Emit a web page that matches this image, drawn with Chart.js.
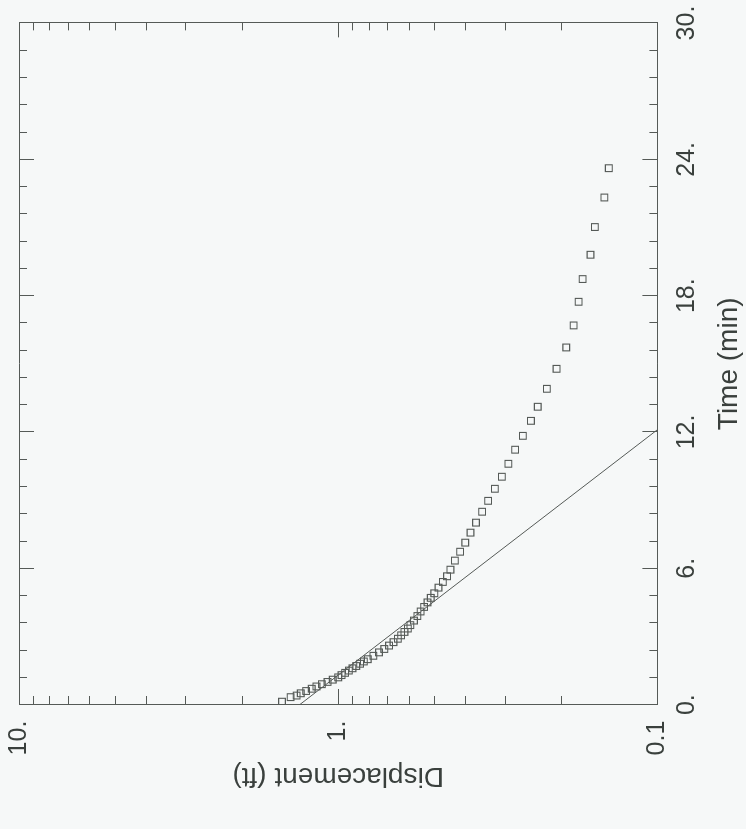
<!DOCTYPE html>
<html>
<head>
<meta charset="utf-8">
<script src="https://cdn.jsdelivr.net/npm/chart.js@4.4.1/dist/chart.umd.min.js"></script>
<style>
  html, body { margin: 0; padding: 0; background: #f6f8f8; overflow: hidden; }
  body { width: 746px; height: 829px; position: relative; }
  /* the scanned figure is turned a quarter turn: draw it upright, then rotate */
  #wrap {
    position: absolute; left: 0; top: 0; width: 829px; height: 746px;
    transform-origin: 0 0;
    transform: translate(0, 829px) rotate(-90deg);
  }
</style>
</head>
<body>
<div id="wrap"><canvas id="chart" width="829" height="746"></canvas></div>
<script>
'use strict';

// ---------------------------------------------------------------------------
// Data
// ---------------------------------------------------------------------------

const timeMin = [
  0.13, 0.33, 0.40, 0.50, 0.60, 0.70, 0.80, 0.90, 1.00, 1.10,
  1.20, 1.30, 1.40, 1.50, 1.60, 1.70, 1.80, 1.90, 2.00, 2.15,
  2.30, 2.45, 2.60, 2.75, 2.90, 3.05, 3.20, 3.35, 3.50, 3.70,
  3.90, 4.10, 4.30, 4.50, 4.70, 4.90, 5.15, 5.40, 5.65, 5.94,
  6.34, 6.73, 7.13, 7.57, 8.01, 8.49, 8.97, 9.50, 10.03, 10.60,
  11.22, 11.83, 12.49, 13.11, 13.90, 14.78, 15.72, 16.69, 17.73, 18.73,
  19.80, 21.02, 22.32, 23.61,
];

const dispFt = [
  1.50, 1.41, 1.35, 1.31, 1.26, 1.21, 1.17, 1.125, 1.08, 1.04,
  1.00, 0.976, 0.951, 0.926, 0.902, 0.878, 0.854, 0.831, 0.808, 0.776,
  0.745, 0.717, 0.693, 0.671, 0.650, 0.635, 0.620, 0.605, 0.594, 0.579,
  0.565, 0.552, 0.538, 0.525, 0.513, 0.500, 0.485, 0.470, 0.456, 0.445,
  0.431, 0.415, 0.400, 0.385, 0.370, 0.354, 0.339, 0.323, 0.307, 0.293,
  0.279, 0.264, 0.249, 0.237, 0.222, 0.207, 0.193, 0.183, 0.1765, 0.1715,
  0.162, 0.157, 0.1466, 0.142,
];

// straight-line fit
const fitTime = [0, 12.1];
const fitDisp = [1.32, 0.1];

// axis ticks
const timeTicks = [
  0, 1.2, 2.4, 3.6, 4.8, 6, 7.2, 8.4, 9.6, 10.8, 12, 13.2, 14.4,
  15.6, 16.8, 18, 19.2, 20.4, 21.6, 22.8, 24, 25.2, 26.4, 27.6, 28.8, 30,
];
const timeLabelValues = [0, 6, 12, 18, 24, 30];

const dispTicks = [
  0.1, 0.2, 0.3, 0.4, 0.5, 0.6, 0.7, 0.8, 0.9,
  1, 2, 3, 4, 5, 6, 7, 8, 9, 10,
];
const dispLabelValues = [0.1, 1, 10];
const dispLabelText = ['0.1', '1.', '10.'];

// ---------------------------------------------------------------------------
// Helpers
// ---------------------------------------------------------------------------

const INK = '#3a403d';
const LINE = '#555a57';
const FONT = "'Liberation Sans', Arial, sans-serif";
const TIME_PAD = 15;
const DISP_PAD = 16;

const near = (a, b) => Math.abs(a - b) < 1e-9;

// Grid lines are only drawn at both ends, so they read as inward ticks.
// Edge values keep a full line (it is the frame there).
function tickDash(ctx, vertical, majorValues, edgeValues) {
  if (!ctx.tick) return [];
  const v = ctx.tick.value;
  if (edgeValues.some(e => near(e, v))) return [];
  const area = ctx.chart.chartArea;
  const span = vertical ? area.bottom - area.top : area.right - area.left;
  const len = majorValues.some(m => near(m, v)) ? 15 : 8;
  return [len, span - 2 * len, len, span];
}

// ---------------------------------------------------------------------------
// Chart
// ---------------------------------------------------------------------------

const points = timeMin.map((t, i) => ({ x: t, y: dispFt[i] }));
const fitLine = fitTime.map((t, i) => ({ x: t, y: fitDisp[i] }));

new Chart(document.getElementById('chart'), {
  type: 'scatter',
  data: {
    datasets: [
      {
        label: 'Observed',
        data: points,
        pointStyle: 'rect',
        pointRadius: 4.8,
        pointBorderWidth: 1.1,
        pointBorderColor: LINE,
        pointBackgroundColor: 'rgba(0,0,0,0)',
      },
      {
        label: 'Fit',
        data: fitLine,
        showLine: true,
        borderColor: LINE,
        borderWidth: 1,
        pointRadius: 0,
      },
    ],
  },
  options: {
    responsive: false,
    animation: false,
    layout: { padding: { left: 32, right: 23, top: 19, bottom: 0 } },
    plugins: {
      legend: { display: false },
      tooltip: { enabled: false },
    },
    scales: {
      x: {
        type: 'linear',
        position: 'bottom',
        min: 0,
        max: 30,
        afterBuildTicks: scale => { scale.ticks = timeTicks.map(v => ({ value: v })); },
        // Chart.js reserves the tick padding twice and pads the chart area
        // for the end labels; take that back so the frame sits where it should
        afterFit: scale => {
          scale.height -= TIME_PAD;
          scale.paddingLeft = 0;
          scale.paddingRight = 0;
        },
        ticks: {
          autoSkip: false,
          maxRotation: 0,
          padding: TIME_PAD,
          color: INK,
          font: { family: FONT, size: 25 },
          callback: v => timeLabelValues.some(m => near(m, v)) ? `${v}.` : '',
        },
        grid: { color: LINE, lineWidth: 1, drawTicks: false },
        border: {
          color: LINE,
          width: 1,
          dash: ctx => tickDash(ctx, true, timeLabelValues, [0, 30]),
        },
        title: {
          display: true,
          text: 'Time (min)',
          color: INK,
          font: { family: FONT, size: 28 },
          padding: { top: 10, bottom: 0 },
        },
      },
      y: {
        type: 'logarithmic',
        position: 'left',
        min: 0.1,
        max: 10,
        afterBuildTicks: scale => { scale.ticks = dispTicks.map(v => ({ value: v })); },
        afterFit: scale => {
          scale.width -= DISP_PAD;
          scale.paddingTop = 0;
          scale.paddingBottom = 0;
        },
        ticks: {
          autoSkip: false,
          padding: DISP_PAD,
          color: INK,
          font: { family: FONT, size: 25 },
          callback: v => {
            const i = dispLabelValues.findIndex(m => near(m, v));
            return i >= 0 ? dispLabelText[i] : '';
          },
        },
        grid: { color: LINE, lineWidth: 1, drawTicks: false },
        border: {
          color: LINE,
          width: 1,
          dash: ctx => tickDash(ctx, false, [1], [0.1, 10]),
        },
        title: {
          display: true,
          text: 'Displacement (ft)',
          color: INK,
          font: { family: FONT, size: 28 },
          padding: { top: 4, bottom: 4 },
        },
      },
    },
  },
});
</script>
</body>
</html>
